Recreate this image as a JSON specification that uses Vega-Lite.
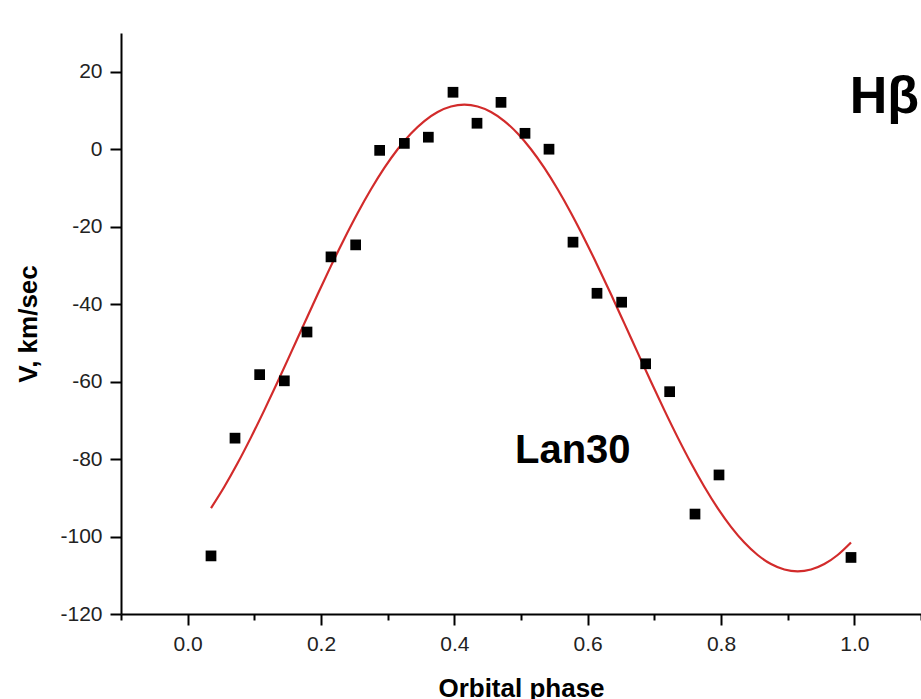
{
  "$schema": "https://vega.github.io/schema/vega-lite/v6.json",
  "width": 800,
  "height": 581,
  "autosize": {"type": "none"},
  "padding": {"left": 121, "top": 33, "right": 0, "bottom": 85},
  "background": "white",
  "config": {"view": {"stroke": null}, "font": "Liberation Sans"},
  "datasets": {
    "points": [
      {"phase": 0.035, "v": -105.0},
      {"phase": 0.071, "v": -74.6},
      {"phase": 0.108, "v": -58.2},
      {"phase": 0.145, "v": -59.8},
      {"phase": 0.179, "v": -47.2},
      {"phase": 0.215, "v": -27.8},
      {"phase": 0.252, "v": -24.7},
      {"phase": 0.288, "v": -0.3},
      {"phase": 0.325, "v": 1.5},
      {"phase": 0.361, "v": 3.1},
      {"phase": 0.398, "v": 14.7},
      {"phase": 0.434, "v": 6.7},
      {"phase": 0.470, "v": 12.1},
      {"phase": 0.506, "v": 4.1},
      {"phase": 0.542, "v": 0.0},
      {"phase": 0.578, "v": -24.0},
      {"phase": 0.614, "v": -37.2},
      {"phase": 0.651, "v": -39.5},
      {"phase": 0.687, "v": -55.4},
      {"phase": 0.723, "v": -62.6},
      {"phase": 0.761, "v": -94.2},
      {"phase": 0.797, "v": -84.1},
      {"phase": 0.995, "v": -105.4}
    ],
    "curve": [
      {"phase": 0.035, "v": -92.67},
      {"phase": 0.055, "v": -87.15},
      {"phase": 0.075, "v": -81.03},
      {"phase": 0.095, "v": -74.40},
      {"phase": 0.115, "v": -67.37},
      {"phase": 0.135, "v": -60.04},
      {"phase": 0.155, "v": -52.53},
      {"phase": 0.175, "v": -44.97},
      {"phase": 0.195, "v": -37.46},
      {"phase": 0.215, "v": -30.13},
      {"phase": 0.235, "v": -23.10},
      {"phase": 0.255, "v": -16.47},
      {"phase": 0.275, "v": -10.35},
      {"phase": 0.295, "v": -4.83},
      {"phase": 0.315, "v": -0.01},
      {"phase": 0.335, "v": 4.05},
      {"phase": 0.355, "v": 7.27},
      {"phase": 0.375, "v": 9.61},
      {"phase": 0.395, "v": 11.02},
      {"phase": 0.415, "v": 11.50},
      {"phase": 0.435, "v": 11.02},
      {"phase": 0.455, "v": 9.61},
      {"phase": 0.475, "v": 7.27},
      {"phase": 0.495, "v": 4.05},
      {"phase": 0.515, "v": -0.01},
      {"phase": 0.535, "v": -4.83},
      {"phase": 0.555, "v": -10.35},
      {"phase": 0.575, "v": -16.47},
      {"phase": 0.595, "v": -23.10},
      {"phase": 0.615, "v": -30.13},
      {"phase": 0.635, "v": -37.46},
      {"phase": 0.655, "v": -44.97},
      {"phase": 0.675, "v": -52.53},
      {"phase": 0.695, "v": -60.04},
      {"phase": 0.715, "v": -67.37},
      {"phase": 0.735, "v": -74.40},
      {"phase": 0.755, "v": -81.03},
      {"phase": 0.775, "v": -87.15},
      {"phase": 0.795, "v": -92.67},
      {"phase": 0.815, "v": -97.49},
      {"phase": 0.835, "v": -101.55},
      {"phase": 0.855, "v": -104.77},
      {"phase": 0.875, "v": -107.11},
      {"phase": 0.895, "v": -108.52},
      {"phase": 0.915, "v": -109.00},
      {"phase": 0.935, "v": -108.52},
      {"phase": 0.955, "v": -107.11},
      {"phase": 0.975, "v": -104.77},
      {"phase": 0.995, "v": -101.55}
    ],
    "hb": [{"phase": 0.993, "v": 9.3, "label": "Hβ"}],
    "lan": [{"phase": 0.491, "v": -81.0, "label": "Lan30"}]
  },
  "layer": [
    {
      "data": {"name": "curve"},
      "mark": {"type": "line", "color": "#d22b2b", "strokeWidth": 2.2, "interpolate": "monotone"},
      "encoding": {
        "x": {
          "field": "phase", "type": "quantitative",
          "scale": {"domain": [-0.1, 1.1], "nice": false, "zero": false},
          "axis": {
            "values": [-0.1, 0, 0.1, 0.2, 0.3, 0.4, 0.5, 0.6, 0.7, 0.8, 0.9, 1.0, 1.1],
            "format": ".1f",
            "labelExpr": "(round(datum.value*10)%2==0 && datum.value>=0) ? datum.label : ''",
            "tickSize": {"condition": {"test": "round(datum.value*10)%2==0", "value": 11}, "value": 6},
            "grid": false,
            "domainColor": "black", "domainWidth": 2,
            "tickColor": "black", "tickWidth": 2,
            "labelFontSize": 21, "labelColor": "#222", "labelPadding": 8,
            "labelFlush": false, "labelOverlap": false, "labelFont": "Liberation Sans",
            "title": "Orbital phase", "titleFontSize": 26, "titleFontWeight": "bold",
            "titleColor": "black", "titlePadding": 21, "titleFont": "Liberation Sans"
          }
        },
        "y": {
          "field": "v", "type": "quantitative",
          "scale": {"domain": [-120, 30], "nice": false, "zero": false},
          "axis": {
            "values": [-120, -110, -100, -90, -80, -70, -60, -50, -40, -30, -20, -10, 0, 10, 20, 30],
            "labelExpr": "(datum.value % 20 == 0 && datum.value <= 20) ? replace(datum.label, '\u2212', '-') : ''",
            "tickSize": {"condition": {"test": "datum.value % 20 == 0", "value": 11}, "value": 6},
            "grid": false,
            "domainColor": "black", "domainWidth": 2,
            "tickColor": "black", "tickWidth": 2,
            "labelFontSize": 21, "labelColor": "#222", "labelPadding": 8,
            "labelFlush": false, "labelOverlap": false, "labelFont": "Liberation Sans",
            "title": "V, km/sec", "titleFontSize": 26, "titleFontWeight": "bold",
            "titleColor": "black", "titlePadding": 18, "titleFont": "Liberation Sans"
          }
        }
      }
    },
    {
      "data": {"name": "points"},
      "mark": {"type": "square", "size": 115, "color": "black", "filled": true, "opacity": 1},
      "encoding": {
        "x": {"field": "phase", "type": "quantitative"},
        "y": {"field": "v", "type": "quantitative"}
      }
    },
    {
      "data": {"name": "hb"},
      "mark": {"type": "text", "fontSize": 52, "fontWeight": "bold", "align": "left", "baseline": "alphabetic", "color": "black", "font": "Liberation Sans"},
      "encoding": {
        "x": {"field": "phase", "type": "quantitative"},
        "y": {"field": "v", "type": "quantitative"},
        "text": {"field": "label"}
      }
    },
    {
      "data": {"name": "lan"},
      "mark": {"type": "text", "fontSize": 40, "fontWeight": "bold", "align": "left", "baseline": "alphabetic", "color": "black", "font": "Liberation Sans"},
      "encoding": {
        "x": {"field": "phase", "type": "quantitative"},
        "y": {"field": "v", "type": "quantitative"},
        "text": {"field": "label"}
      }
    }
  ]
}
